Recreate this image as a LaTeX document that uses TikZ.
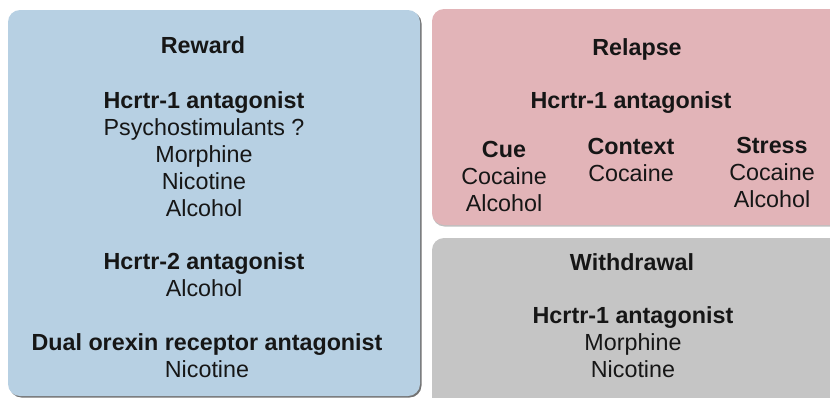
\documentclass[tikz,border=0pt]{standalone}
\usepackage{fontspec}
\setmainfont{Liberation Sans}
\usepackage{xcolor}
\usetikzlibrary{positioning}
\definecolor{rewardcol}{HTML}{B7D0E3}
\definecolor{relapsecol}{HTML}{E2B4B8}
\definecolor{withdrcol}{HTML}{C5C5C5}
\definecolor{inkcol}{HTML}{161616}

\begin{document}
\begin{tikzpicture}[x=1pt, y=-1pt,
  panel/.style={rounded corners=12pt},
  shade/.style={panel, fill=black!55},
  txt/.style={text=inkcol, align=center, anchor=base, inner sep=0pt,
              font=\fontsize{23.3}{27}\selectfont},
  head/.style={txt, font=\fontsize{23.3}{27}\selectfont\bfseries}]

  \useasboundingbox (0,0) rectangle (830,397);
  \clip (0,0) rectangle (830,397);

  % panels
  \fill[shade] (9.5,11.5) rectangle (421.5,397.5);
  \fill[panel, rewardcol] (8,10) rectangle (420,396);
  \fill[shade, black!25] (432.5,10.5) rectangle (860,226.5);
  \fill[panel, relapsecol] (432,9) rectangle (860,225);
  \fill[panel, withdrcol] (432,238) rectangle (860,410);

  % reward (multi-line nodes sit on their last baseline)
  \node[head] (reward) at (203,53) {Reward};
  \node[txt] (rwhcrt1) at (204,216)
    {\textbf{Hcrtr-1 antagonist}\\Psychostimulants ?\\Morphine\\Nicotine\\Alcohol};
  \node[txt] (rwhcrt2) at (204,296) {\textbf{Hcrtr-2 antagonist}\\Alcohol};
  \node[txt] (rwdora) at (207,377) {\textbf{Dual orexin receptor antagonist}\\Nicotine};

  % relapse
  \node[head] (relapse) at (637,55) {Relapse};
  \node[head] (rlhcrt1) at (631,108) {Hcrtr-1 antagonist};
  \node[txt] (cue) at (504,211) {\textbf{Cue}\\Cocaine\\Alcohol};
  \node[txt] (context) at (631,181) {\textbf{Context}\\Cocaine};
  \node[txt] (stress) at (772,207) {\textbf{Stress}\\Cocaine\\Alcohol};

  % withdrawal
  \node[head] (withdr) at (632,270) {Withdrawal};
  \node[txt] (wdhcrt1) at (633,377) {\textbf{Hcrtr-1 antagonist}\\Morphine\\Nicotine};
\end{tikzpicture}
\end{document}
